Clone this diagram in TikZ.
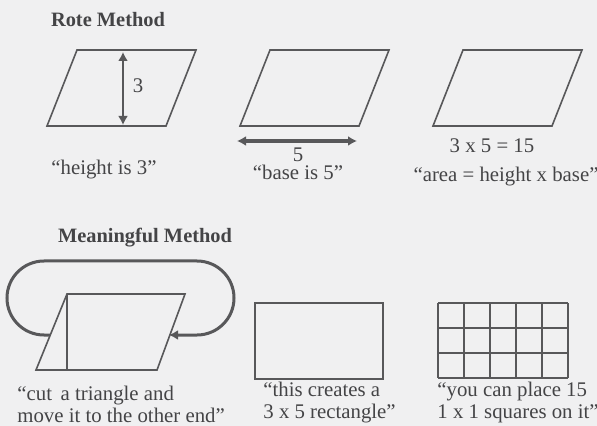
\documentclass[tikz,border=0pt]{standalone}
\usepackage{fontspec}
\setmainfont{Liberation Serif}
\usepackage{tikz}
\usetikzlibrary{arrows.meta,positioning}
\definecolor{PaperGray}{RGB}{240,240,241}
\definecolor{InkGray}{RGB}{88,88,90}
\definecolor{TextGray}{RGB}{68,68,70}

\tikzset{
  figline/.style={draw=InkGray, line width=0.8pt},
  measure/.style={InkGray, line width=1.3pt, {Latex[length=4.5pt,width=5pt]}-{Latex[length=4.5pt,width=5pt]}},
  caption/.style={text=TextGray, font=\fontsize{10.4}{11}\selectfont, inner sep=0pt},
  heading/.style={text=TextGray, font=\fontsize{10.2}{11}\selectfont\bfseries, inner sep=0pt},
}

\begin{document}
\begin{tikzpicture}[x=0.5pt, y=-0.5pt]
    \fill[PaperGray] (0,0) rectangle (597,426);
    \useasboundingbox (0,0) rectangle (597,426);

    % Rote method
    \node[heading, anchor=base] (rote) at (108,27) {Rote Method};
    \foreach \x in {77,270,463} {
      \draw[figline] (\x,50) -- ++(119,0) -- ++(-30,76) -- ++(-119,0) -- cycle;
    }

    \coordinate (htop) at (123,52);
    \coordinate (hbot) at (123,125);
    \draw[measure] (htop) -- (hbot);
    \node[caption] (hlabel) at (138,86) {3};

    \coordinate (bleft) at (237,141);
    \coordinate (bright) at (357,141);
    \draw[measure, line width=1.6pt] (bleft) -- (bright);
    \node[caption, anchor=base] (blabel) at (298,162) {5};

    \node[caption, anchor=base] (areacalc) at (492,153) {3 x 5 = 15};
    \node[caption, anchor=base] (height) at (104,175) {``height is 3''};
    \node[caption, anchor=base] (base) at (298,180) {``base is 5''};
    \node[caption, anchor=base] (area) at (506,182) {``area = height x base''};

    % Meaningful method
    \node[heading, anchor=base] (meaning) at (145,243) {Meaningful Method};
    \draw[figline] (67,294) -- (185,294) -- (157,370) -- (36,370) -- cycle;
    \draw[figline] (67,294) -- (67,370);

    \coordinate (cutfrom) at (50,335);
    \coordinate (cutto) at (169,335);
    \draw[InkGray, line width=1.5pt, -{Latex[length=4.5pt,width=5pt]}]
      (cutfrom) -- (44,335) arc[start angle=90, end angle=270, radius=37]
      -- (197,261) arc[start angle=270, end angle=450, radius=37] -- (cutto);

    \draw[figline] (255,303) rectangle (383,379);

    % unit squares
    \foreach \x in {438,464,490,516,542,568} {
      \draw[figline] (\x,303) -- (\x,378);
    }
    \foreach \y in {303,328,353,378} {
      \draw[figline] (438,\y) -- (568,\y);
    }

    \node[caption, align=left, anchor=north west] (cut) at (17,386)
      {``cut\, a triangle and\\move it to the other end''};
    \node[caption, align=left, anchor=north west] (creates) at (263,382)
      {``this creates a\\3 x 5 rectangle''};
    \node[caption, align=left, anchor=north west] (place) at (437,382)
      {``you can place 15\\1 x 1 squares on it''};
\end{tikzpicture}
\end{document}
